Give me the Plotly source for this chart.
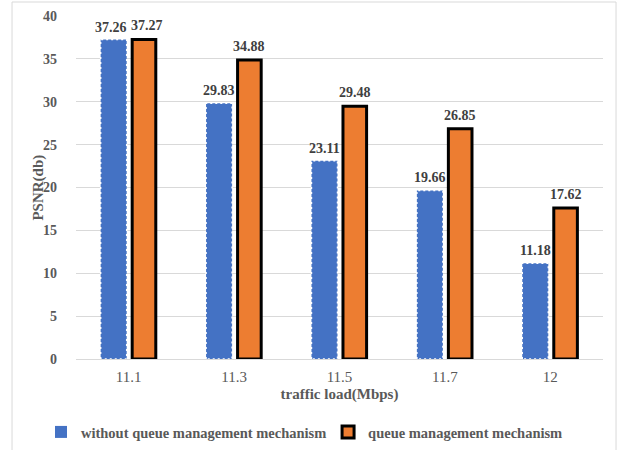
import numpy as np
import plotly.graph_objects as go

# PSNR against traffic load, with and without the queue management mechanism
loads = ["11.1", "11.3", "11.5", "11.7", "12"]
psnr_without = [37.26, 29.83, 23.11, 19.66, 11.18]
psnr_with = [37.27, 34.88, 29.48, 26.85, 17.62]

pos = np.arange(len(loads))

BLUE = "#4472C4"
ORANGE = "#ED7D31"
FONT = "Liberation Serif"
GREY = "#595959"

W_BLUE, OFF_BLUE = 0.247, -0.266
W_ORANGE, OFF_ORANGE = 0.224, 0.033

label_font = dict(family=FONT, size=14, color="#404040", weight="bold")
legend_font = dict(family=FONT, size=14.5, color=GREY, weight="bold")

fig = go.Figure()

fig.add_trace(go.Bar(
    name="without queue management mechanism", legend="legend",
    x=pos, y=psnr_without, width=W_BLUE, offset=OFF_BLUE,
    marker=dict(color=BLUE, line=dict(width=0)),
    hoverinfo="skip",
))

fig.add_trace(go.Bar(
    name="queue management mechanism", legend="legend2",
    x=pos, y=psnr_with, width=W_ORANGE, offset=OFF_ORANGE,
    marker=dict(color=ORANGE, line=dict(width=3, color="black")),
    hoverinfo="skip",
))

# dotted outline around the blue bars
ox, oy = [], []
for p, v in zip(pos, psnr_without):
    x0, x1 = p + OFF_BLUE, p + OFF_BLUE + W_BLUE
    ox += [x0, x0, x1, x1, x0, None]
    oy += [0, v, v, 0, 0, None]
fig.add_trace(go.Scatter(
    x=ox, y=oy, mode="lines", showlegend=False, hoverinfo="skip",
    line=dict(color="white", width=1.5, dash="2px,3px"), cliponaxis=False,
))

# value labels above each bar; pairs with nearly equal heights are pushed apart
annotations = []
for p, a, b in zip(pos, psnr_without, psnr_with):
    spread = 3 if abs(a - b) < 2 else 0
    annotations.append(dict(
        x=p + OFF_BLUE + W_BLUE / 2, y=a, text=f"{a:.2f}",
        xanchor="center", yanchor="bottom", yshift=3, xshift=-spread,
        showarrow=False, font=label_font,
    ))
    annotations.append(dict(
        x=p + OFF_ORANGE + W_ORANGE / 2, y=b, text=f"{b:.2f}",
        xanchor="center", yanchor="bottom", yshift=4, xshift=spread,
        showarrow=False, font=label_font,
    ))

annotations.append(dict(
    text="PSNR(db)", textangle=-90, xref="paper", yref="paper",
    x=-0.072, y=0.5, xanchor="center", yanchor="middle", showarrow=False,
    font=dict(family=FONT, size=15, color=GREY, weight="bold"),
))

fig.update_layout(
    width=619, height=450,
    margin=dict(l=76, r=16, t=16, b=91, autoexpand=False),
    paper_bgcolor="white", plot_bgcolor="white",
    barmode="overlay",
    font=dict(family=FONT, color=GREY, size=14),
    xaxis=dict(
        range=[-0.5, 4.5], tickvals=pos, ticktext=loads,
        showgrid=False, zeroline=False, showline=True, linecolor="#d9d9d9",
        tickfont=dict(family=FONT, size=15, color=GREY),
        ticklabelstandoff=4,
        title=dict(text="traffic load(Mbps)", standoff=4,
                   font=dict(family=FONT, size=15, color=GREY, weight="bold")),
    ),
    yaxis=dict(
        range=[0, 40], dtick=5, showgrid=True, gridcolor="#d9d9d9", zeroline=False,
        tickfont=dict(family=FONT, size=14, color=GREY, weight="bold"),
        ticklabelstandoff=18,
    ),
    legend=dict(
        xref="container", yref="container",
        x=0.0662, xanchor="left", y=0.04, yanchor="middle",
        font=legend_font, itemwidth=30, bgcolor="rgba(0,0,0,0)",
    ),
    legend2=dict(
        xref="container", yref="container",
        x=0.53, xanchor="left", y=0.04, yanchor="middle",
        font=legend_font, itemwidth=30, bgcolor="rgba(0,0,0,0)",
    ),
    annotations=annotations,
    shapes=[dict(type="rect", xref="paper", yref="paper",
                 x0=-0.1214, x1=1.0247, y0=-0.3, y1=1.0408,
                 line=dict(color="#d9d9d9", width=1), layer="below")],
)

fig.write_html("out.html")
